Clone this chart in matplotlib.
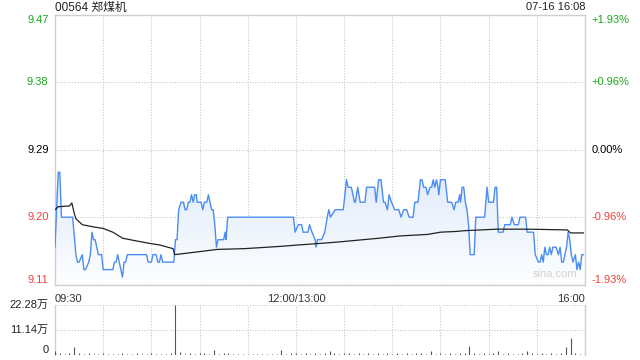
import matplotlib
matplotlib.use('Agg')
import matplotlib.pyplot as plt
import numpy as np
from matplotlib.colors import LinearSegmentedColormap

plt.rcParams['font.family'] = ['Liberation Sans', 'Noto Sans CJK SC', 'DejaVu Sans']

# ---- data ----
title = '00564 郑煤机'
stamp = '07-16 16:08'
prev_close = 9.29
price_ticks = ['9.47', '9.38', '9.29', '9.20', '9.11']
pct_ticks = ['+1.93%', '+0.96%', '0.00%', '-0.96%', '-1.93%']
time_labels = ['09:30', '12:00/13:00', '16:00']
vol_ticks = ['22.28万', '11.14万', '0']

# minutes since 09:30 (lunch break removed, 330 minutes in the day)
price_t = [0, 2, 3, 4, 11, 13, 14, 15, 17, 18, 19, 21, 22, 23, 24, 25, 26, 27, 29,
           30, 36, 37, 38, 39, 40, 41, 42, 43, 44, 45, 47, 57, 58, 60, 61, 63, 64,
           65, 66, 67, 74, 75, 76, 77, 78.5, 80, 81, 82, 83, 84, 85, 86, 87, 88,
           88.5, 89, 91, 92, 93, 94.5, 95.5, 96.5, 97.5, 98.5, 99.5, 100.5, 101.5,
           105, 106, 106.5, 107.5, 148.5, 149.5, 151.5, 153.5, 154.5, 157.5, 158.5,
           160, 162, 162.5, 163.5, 166, 168, 169.5, 170.5, 171.5, 174.5, 179.5,
           181.5, 182.5, 184.5, 186.5, 187, 188.5, 190, 193, 194, 199, 200, 201.5,
           203, 204.5, 205.5, 207, 208, 209.5, 211.5, 214, 215.5, 217, 219, 220.5,
           223, 224, 226, 227.5, 228.5, 229.5, 231, 232, 233.5, 234.5, 235.5,
           236.5, 237.5, 238.5, 239, 240, 243, 244.5, 247, 248.5, 249.5, 251, 252,
           252.5, 253.5, 254.5, 255.5, 256.5, 257.5, 258.5, 261, 262, 267.5, 269,
           270, 273, 274, 275, 276, 279, 280, 283.5, 284.5, 286, 288.5, 289.5, 293,
           294, 298, 299, 301, 302, 303, 304, 305, 306, 307, 308, 309, 310, 312,
           313.5, 314.5, 315.5, 316.5, 317.5, 318.5, 319.5, 320.5, 321.5, 322.5,
           324, 325, 326, 327, 328, 329]
price_v = [9.16, 9.26, 9.26, 9.20, 9.20, 9.15, 9.14, 9.14, 9.15, 9.13, 9.13, 9.14,
           9.15, 9.18, 9.17, 9.17, 9.16, 9.15, 9.15, 9.13, 9.13, 9.14, 9.14, 9.15,
           9.14, 9.13, 9.12, 9.14, 9.14, 9.15, 9.15, 9.15, 9.14, 9.14, 9.15, 9.15,
           9.14, 9.14, 9.15, 9.14, 9.14, 9.17, 9.17, 9.21, 9.22, 9.22, 9.21, 9.21,
           9.22, 9.22, 9.23, 9.22, 9.23, 9.23, 9.22, 9.22, 9.22, 9.21, 9.22, 9.22,
           9.23, 9.22, 9.21, 9.21, 9.19, 9.16, 9.17, 9.17, 9.18, 9.17, 9.20, 9.20,
           9.18, 9.19, 9.19, 9.18, 9.18, 9.19, 9.18, 9.17, 9.16, 9.17, 9.17, 9.18,
           9.20, 9.21, 9.20, 9.21, 9.21, 9.25, 9.24, 9.24, 9.22, 9.22, 9.24, 9.22,
           9.22, 9.24, 9.24, 9.22, 9.25, 9.25, 9.22, 9.22, 9.21, 9.23, 9.22, 9.21,
           9.21, 9.20, 9.21, 9.21, 9.20, 9.20, 9.22, 9.22, 9.25, 9.25, 9.24, 9.24,
           9.23, 9.24, 9.24, 9.25, 9.24, 9.25, 9.24, 9.23, 9.25, 9.25, 9.22, 9.22,
           9.21, 9.22, 9.22, 9.23, 9.22, 9.24, 9.24, 9.22, 9.21, 9.19, 9.15, 9.15,
           9.20, 9.20, 9.24, 9.22, 9.22, 9.24, 9.24, 9.18, 9.18, 9.19, 9.19, 9.20,
           9.19, 9.19, 9.20, 9.20, 9.18, 9.18, 9.15, 9.14, 9.14, 9.15, 9.14, 9.16,
           9.15, 9.15, 9.16, 9.15, 9.16, 9.16, 9.15, 9.16, 9.14, 9.14, 9.15, 9.16,
           9.18, 9.17, 9.15, 9.14, 9.15, 9.13, 9.14, 9.13, 9.15, 9.15]

avg_t = [0, 2, 9, 10.5, 12, 13, 17, 24, 30, 36, 42, 49, 59, 65, 73.5, 74.5, 90,
         101, 118, 140, 152, 165, 177, 202, 215, 232, 240, 250, 255, 275, 295,
         319, 321, 329]
avg_v = [9.210, 9.214, 9.215, 9.219, 9.205, 9.198, 9.190, 9.187, 9.185, 9.180,
         9.172, 9.169, 9.165, 9.163, 9.158, 9.150, 9.154, 9.157, 9.158, 9.161,
         9.163, 9.165, 9.167, 9.172, 9.175, 9.177, 9.180, 9.181, 9.182, 9.184,
         9.184, 9.183, 9.179, 9.179]

# volume in 万 shares, one bar every 3 minutes
vol_v = [1.9, 0.8, 0.6, 0.9, 3.4, 0.7, 0.5, 0.8, 0.6, 0.4, 0.7, 0.5, 0.6, 0.4, 0.8,
         0.5, 0.6, 1.0, 0.5, 0.6, 0.9, 0.4, 0.6, 0.5, 0.7, 22.28, 1.2, 0.6, 0.8,
         0.5, 0.7, 0.9, 0.5, 2.3, 0.6, 0.8, 1.0, 0.5, 0.4, 0.6, 0.5, 0.4, 0.6, 0.5,
         0.4, 0.5, 0.6, 2.3, 0.5, 0.7, 1.0, 0.6, 0.8, 0.5, 0.9, 0.6, 0.7, 2.0, 0.8,
         0.6, 1.1, 0.7, 0.6, 0.8, 0.5, 0.7, 0.6, 0.9, 0.5, 0.8, 0.6, 0.7, 0.5, 0.9,
         0.6, 0.7, 0.8, 0.5, 2.0, 0.6, 0.7, 0.5, 0.8, 0.6, 0.7, 0.9, 4.2, 0.8, 0.6,
         0.7, 0.5, 0.8, 2.0, 0.6, 0.7, 0.5, 0.6, 0.8, 2.0, 0.7, 0.6, 0.8, 0.5, 0.7,
         0.6, 0.9, 3.7, 7.4, 0.8, 0.6, 1.5]
vol_t = np.arange(len(vol_v)) * 3

# ---- styling ----
green = '#1ea51e'
red = '#f0413a'
grid_c = '#c8c8c8'
frame_c = '#cfcfcf'
line_c = '#4b8df0'
ylo, yhi = prev_close - 0.18, prev_close + 0.18

fig = plt.figure(figsize=(6.4, 3.6), dpi=100)
ax = fig.add_axes([55 / 640, 1 - 284.6 / 360, 530 / 640, 269.6 / 360])
axv = fig.add_axes([55 / 640, 1 - 355 / 360, 530 / 640, 50 / 360])

for a in (ax, axv):
    a.set_xlim(0, 330)
    a.set_xticks([])
    a.set_yticks([])
    for s in a.spines.values():
        s.set_color(frame_c)
        s.set_linewidth(1)
    for m in range(30, 330, 30):
        a.axvline(m, color=grid_c, lw=0.8, ls=(0, (1, 1.5)), zorder=0)

ax.set_ylim(ylo, yhi)
for k in (1, 0, -1):
    ax.axhline(prev_close + k * 0.09, color=grid_c, lw=0.8, ls=(0, (1, 1.5)), zorder=0)

# gradient fill under price line
cmap = LinearSegmentedColormap.from_list('fade', ['#fdfeff', '#dfeafb'])
grad = np.linspace(0, 1, 256).reshape(-1, 1)
img = ax.imshow(grad, cmap=cmap, aspect='auto', origin='lower',
                extent=[0, 330, ylo, 9.27], zorder=1)
poly = ax.fill_between(price_t, price_v, ylo, color='none', lw=0)
img.set_clip_path(poly.get_paths()[0], transform=ax.transData)

ax.plot(price_t, price_v, color=line_c, lw=1.0, zorder=3)
ax.plot(avg_t, avg_v, color='#222222', lw=0.9, zorder=4)

ax.text(0.985, 0.02, 'sina.com', transform=ax.transAxes, ha='right', va='bottom',
        fontsize=8, color='#d2d2d2')

# price labels on both sides
colors = [green, green, 'black', red, red]
for i, (pl, pc, c) in enumerate(zip(price_ticks, pct_ticks, colors)):
    yv = yhi - i * 0.09
    va = 'top' if i == 0 else ('bottom' if i == 4 else 'center')
    ax.text(-4, yv, pl, ha='right', va=va, fontsize=8, color=c, clip_on=False)
    ax.text(334, yv, pc, ha='left', va=va, fontsize=8, color=c, clip_on=False)

# time labels
ax.text(0, ylo - 0.012, time_labels[0], ha='left', va='top', fontsize=8, color='#333333')
ax.text(150, ylo - 0.012, time_labels[1], ha='center', va='top', fontsize=8, color='#333333')
ax.text(330, ylo - 0.012, time_labels[2], ha='right', va='top', fontsize=8, color='#333333')

fig.text(55 / 640, 1 - 7.5 / 360, title, ha='left', va='center', fontsize=8.5, color='#222222')
fig.text(585 / 640, 1 - 7.5 / 360, stamp, ha='right', va='center', fontsize=8, color='#222222')

# volume panel
axv.set_ylim(0, 22.28)
axv.spines['top'].set_visible(False)
axv.spines['bottom'].set_visible(False)
axv.axhline(22.28, color=grid_c, lw=0.8, ls=(0, (1, 1.5)), zorder=0)
axv.axhline(11.14, color=grid_c, lw=0.8, ls=(0, (1, 1.5)), zorder=0)
axv.vlines(vol_t, 0, vol_v, color='#555555', lw=0.8, zorder=3)
for lab, yv, va in zip(vol_ticks, (22.28, 11.14, 0), ('center', 'center', 'bottom')):
    axv.text(-4, yv, lab, ha='right', va=va, fontsize=8, color='#222222', clip_on=False)

fig.savefig('out.png', dpi=100)
